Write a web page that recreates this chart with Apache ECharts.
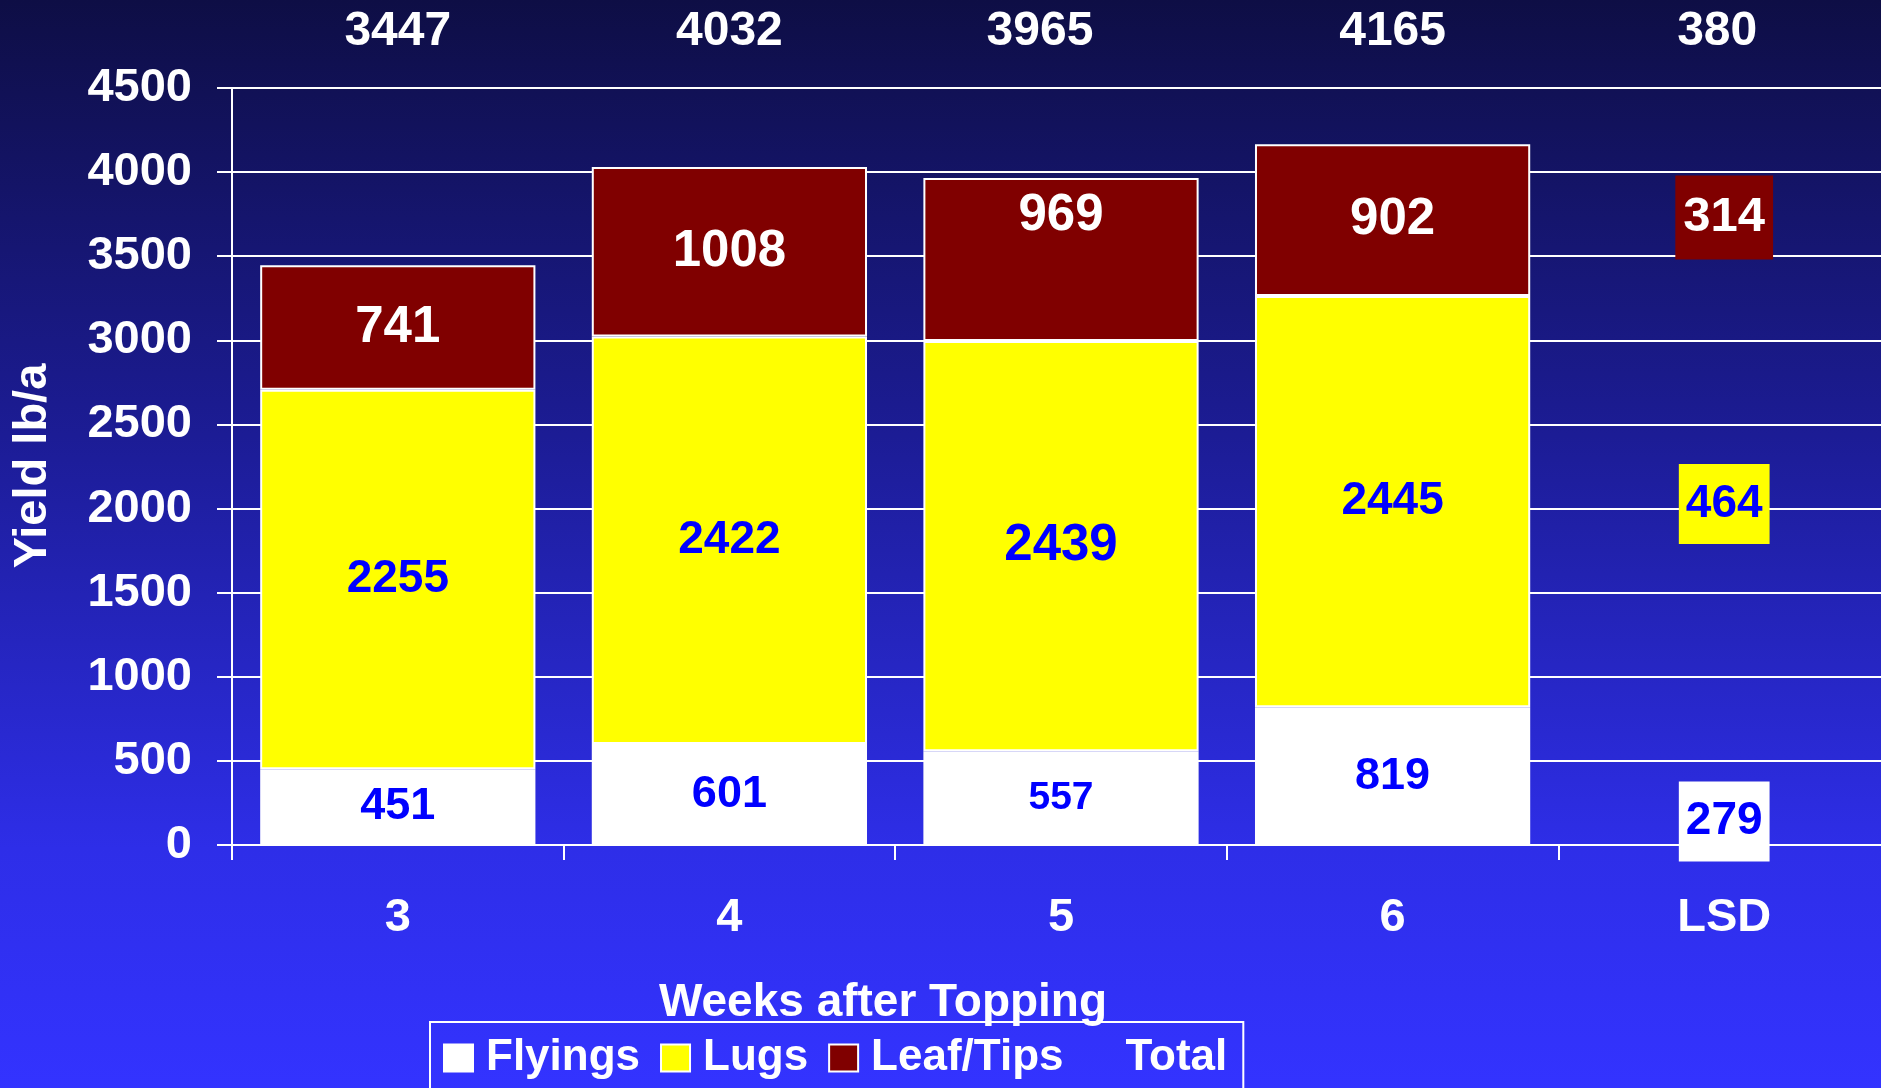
<!DOCTYPE html>
<html>
<head>
<meta charset="utf-8">
<title>Yield by weeks after topping</title>
<script src="https://cdn.jsdelivr.net/npm/echarts@6/dist/echarts.min.js"></script>
<style>
    html, body {
        margin: 0;
        padding: 0;
        overflow: hidden;
    }
    /* the plot runs a little past the right edge of the picture */
    #chart {
        width: 1890px;
        height: 1088px;
        background: linear-gradient(to bottom, #0e0e45 0%, #1c1c95 40%, #2e2ee8 78%, #3333ff 100%);
    }
</style>
</head>
<body>
<div id="chart"></div>
<script>
// data
const categories = ['3', '4', '5', '6', 'LSD'];
const flyings = [451, 601, 557, 819, 279];
const lugs = [2255, 2422, 2439, 2445, 464];
const leafTips = [741, 1008, 969, 902, 314];
const totals = [3447, 4032, 3965, 4165, 380];

const FONT = "'Liberation Sans', Arial, sans-serif";
const LSD_INDEX = 4;

let chart_obj = echarts.init(document.getElementById('chart'), null, { renderer: 'canvas' });

// per item tweaks: the LSD column is drawn as boxes only, some labels are sized differently
function buildData(values, color, labelTweaks, lsdOffset, lsdPad) {
    return values.map((v, i) => {
        let item = { value: v };
        if (i === LSD_INDEX) {
            item.itemStyle = { color: 'rgba(0,0,0,0)', borderWidth: 0 };
            item.label = {
                backgroundColor: color,
                padding: lsdPad,
                offset: [0, lsdOffset]
            };
        }
        if (labelTweaks[i]) {
            item.label = Object.assign(item.label || {}, labelTweaks[i]);
        }
        return item;
    });
}

const default_series_bar = {
    type: 'bar',
    stack: 'yield',
    barCategoryGap: '17%',
    xAxisIndex: 0,
    itemStyle: { borderColor: '#ffffff', borderWidth: 2 },
    label: {
        show: true,
        position: 'inside',
        fontFamily: FONT,
        fontWeight: 'bold',
        lineHeight: 52
    },
    emphasis: { disabled: true }
};

let option = {
    animation: false,
    textStyle: { fontFamily: FONT },
    grid: {
        left: 232,
        top: 88,
        right: 0,
        bottom: 243
    },
    legend: {
        left: 430,
        top: 1022,
        padding: [14, 16, 14, 13],
        borderColor: '#ffffff',
        borderWidth: 2,
        itemGap: 20,
        itemWidth: 29,
        itemHeight: 27,
        icon: 'rect',
        textStyle: {
            color: '#ffffff',
            fontSize: 44,
            fontWeight: 'bold',
            fontFamily: FONT,
            lineHeight: 44,
            padding: [0, 0, 0, 8]
        },
        data: [
            { name: 'Flyings' },
            { name: 'Lugs' },
            { name: 'Leaf/Tips' },
            { name: 'Total', itemStyle: { opacity: 0 } }
        ]
    },
    graphic: [
        {
            type: 'text',
            x: 883,
            y: 1003,
            style: {
                text: 'Weeks after Topping',
                fill: '#ffffff',
                font: "bold 46px 'Liberation Sans', Arial, sans-serif",
                align: 'center',
                verticalAlign: 'middle'
            }
        },
        {
            type: 'text',
            x: 33,
            y: 466,
            rotation: Math.PI / 2,
            style: {
                text: 'Yield lb/a',
                fill: '#ffffff',
                font: "bold 47px 'Liberation Sans', Arial, sans-serif",
                align: 'center',
                verticalAlign: 'middle'
            }
        }
    ],
    xAxis: [
        {
            type: 'category',
            data: categories,
            boundaryGap: true,
            axisLine: { lineStyle: { color: '#ffffff', width: 2 } },
            axisTick: { show: true, length: 15, lineStyle: { color: '#ffffff', width: 2 } },
            axisLabel: {
                interval: 0,
                margin: 50,
                color: '#ffffff',
                fontSize: 47,
                fontWeight: 'bold',
                fontFamily: FONT
            },
            splitLine: { show: false }
        },
        {
            // totals shown above the plot
            type: 'category',
            position: 'top',
            data: totals.map(String),
            boundaryGap: true,
            axisLine: { show: false },
            axisTick: { show: false },
            axisLabel: {
                interval: 0,
                margin: 32,
                color: '#ffffff',
                fontSize: 48,
                fontWeight: 'bold',
                fontFamily: FONT,
                // a couple of totals sit a bit left of their column
                formatter: (v, i) => i === 2 ? '{l|' + v + '}' : (i === 4 ? '{s|' + v + '}' : v),
                rich: {
                    l: { fontSize: 48, fontWeight: 'bold', color: '#ffffff', fontFamily: FONT, padding: [0, 42, 0, 0] },
                    s: { fontSize: 48, fontWeight: 'bold', color: '#ffffff', fontFamily: FONT, padding: [0, 14, 0, 0] }
                }
            },
            splitLine: { show: false }
        }
    ],
    yAxis: {
        type: 'value',
        min: 0,
        max: 4500,
        interval: 500,
        axisLine: { show: true, lineStyle: { color: '#ffffff', width: 2 } },
        axisTick: { show: true, length: 15, lineStyle: { color: '#ffffff', width: 2 } },
        axisLabel: {
            margin: 40,
            color: '#ffffff',
            fontSize: 47,
            fontWeight: 'bold',
            fontFamily: FONT,
            formatter: v => String(v)
        },
        splitLine: { show: true, lineStyle: { color: '#ffffff', width: 2 } }
    },
    series: []
};

let sFly = echarts.util.merge(echarts.util.clone(default_series_bar), {
    name: 'Flyings',
    itemStyle: { color: '#ffffff' },
    label: { color: '#0000ff', fontSize: 45 }
});
sFly.data = buildData(flyings, '#ffffff', { 2: { fontSize: 39 }, 4: { fontSize: 46 } }, 0, [14, 7]);

let sLugs = echarts.util.merge(echarts.util.clone(default_series_bar), {
    name: 'Lugs',
    itemStyle: { color: '#ffff00' },
    label: { color: '#0000ff', fontSize: 46 }
});
sLugs.data = buildData(lugs, '#ffff00', { 2: { fontSize: 51 } }, -255, [14, 7]);

let sLeaf = echarts.util.merge(echarts.util.clone(default_series_bar), {
    name: 'Leaf/Tips',
    itemStyle: { color: '#800000' },
    label: { color: '#ffffff', fontSize: 51 }
});
sLeaf.data = buildData(leafTips, '#800000', { 2: { offset: [0, -44] }, 4: { fontSize: 49 } }, -476, [16, 8]);

// Total only shows up in the legend, its values are written above the plot
let sTotal = {
    name: 'Total',
    type: 'line',
    data: totals,
    silent: true,
    symbol: 'none',
    itemStyle: { color: 'rgba(0,0,0,0)' },
    lineStyle: { width: 0, opacity: 0 }
};

option.series = [sFly, sLugs, sLeaf, sTotal];
chart_obj.setOption(option);
</script>
</body>
</html>
